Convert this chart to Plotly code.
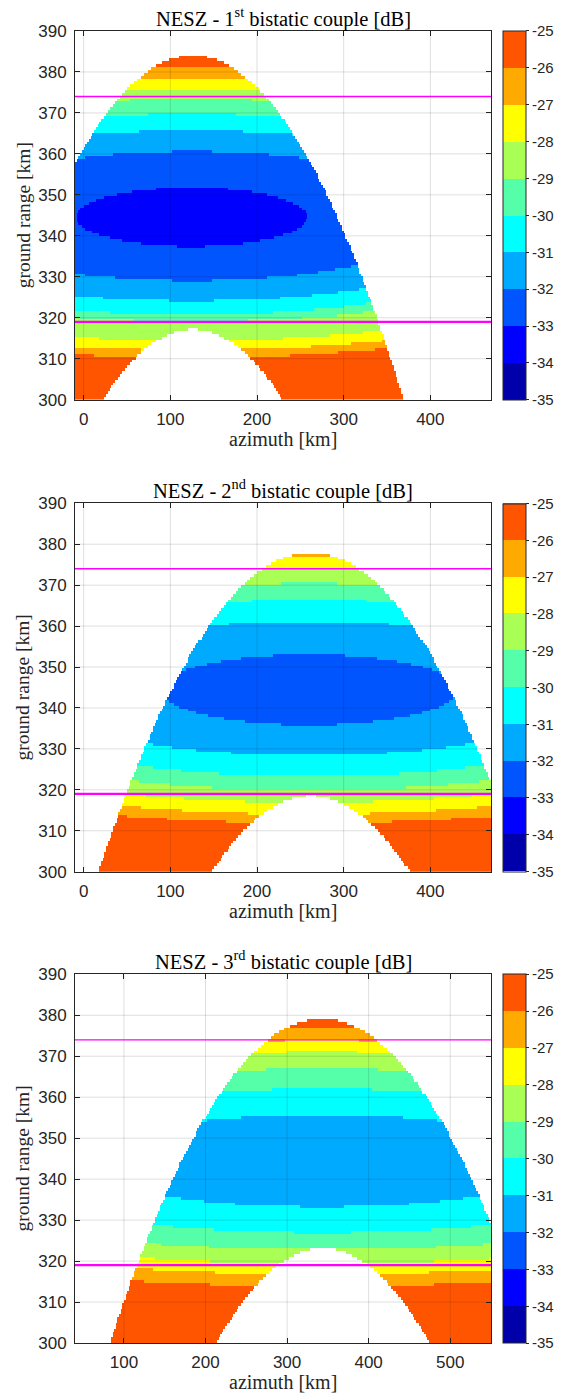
import numpy as np
import plotly.graph_objects as go

# ---------------- data ----------------
# discrete colour levels of the colour bar (dB)
CBAR_TICKS_DB = [-35, -34, -33, -32, -31, -30, -29, -28, -27, -26, -25]
BAND_COLORS = ["#0000AA", "#0000FF", "#0055FF", "#00AAFF", "#00FFFF",
               "#55FFAA", "#AAFF55", "#FFFF00", "#FFAA00", "#FF5500"]

# horizontal reference lines (ground range, km)
THRESHOLDS_KM = [374, 319]
THRESHOLD_WIDTHS = [1.4, 2.2]

TITLES = ["NESZ - 1<sup>st</sup> bistatic couple [dB]",
          "NESZ - 2<sup>nd</sup> bistatic couple [dB]",
          "NESZ - 3<sup>rd</sup> bistatic couple [dB]"]

X_RANGES = [[-10, 470], [-10, 470], [40, 550]]
X_TICKS = [[0, 100, 200, 300, 400], [0, 100, 200, 300, 400], [100, 200, 300, 400, 500]]
Y_RANGE = [300, 390]
Y_TICKS = [300, 310, 320, 330, 340, 350, 360, 370, 380, 390]

# NESZ profile at the central azimuth: level (dB) -> ground range (km) where it is crossed
P1_CENTER = dict(az=124.5, rg=344.6, db=-33.5, aspect=0.054)
P1_LEVELS_DB = [-33, -32, -31, -30, -29, -28, -27, -26, -25]
P1_UPPER_KM = [351.8, 360.6, 365.7, 369.8, 373.4, 375.7, 378.3, 381.2, 383.1]
P1_LOWER_KM = [337.4, 329.0, 324.1, 320.8, 319.0, 314.5, 312.1, 310.3, 308.6]

P2_CENTER = dict(az=260.0, rg=344.5, db=-32.5, aspect=0.050)
P2_LEVELS_DB = [-32, -31, -30, -29, -28, -27, -26, -25]
P2_UPPER_KM = [353.1, 361.2, 366.4, 370.4, 374.1, 376.8, 378.6, 380.0]
P2_LOWER_KM = [335.9, 328.4, 323.5, 320.0, 316.9, 314.15, 311.9, 309.5]

P3_CENTER = dict(az=343.0, rg=344.4, db=-31.7, aspect=0.038)
P3_LEVELS_DB = [-31, -30, -29, -28, -27, -26, -25]
P3_UPPER_KM = [355.6, 362.1, 367.0, 371.1, 373.9, 377.05, 379.4]
P3_LOWER_KM = [333.2, 326.9, 322.8, 319.4, 316.7, 313.9, 311.4]

# coverage limits: parabolic outer / inner edges (apex azimuth, apex range, curvature km^-1)
P1_OUTER = (126.0, 384.0, 0.00142)
P1_INNER = (126.0, 317.2, 0.00159)
P2_OUTER = (262.0, 378.0, 0.00130)
P2_INNER = (262.0, 318.6, 0.00142)
P3_OUTER = (343.0, 379.2, 0.00117)
P3_INNER = (344.0, 323.1, 0.00135)

PANELS = [
    (P1_CENTER, P1_LEVELS_DB, P1_UPPER_KM, P1_LOWER_KM, P1_OUTER, P1_INNER),
    (P2_CENTER, P2_LEVELS_DB, P2_UPPER_KM, P2_LOWER_KM, P2_OUTER, P2_INNER),
    (P3_CENTER, P3_LEVELS_DB, P3_UPPER_KM, P3_LOWER_KM, P3_OUTER, P3_INNER),
]

# grid resolution of the map (km)
DX, DY = 2.0, 0.7

# ---------------- layout geometry ----------------
W, H = 567, 1394
ML, MR, MT, MB = 75, 73, 31, 51
PH = H - MT - MB
PW = W - ML - MR
DOMAINS = [[(H - MB - 399.7) / PH, 1.0],
           [(H - MB - 871.7) / PH, (H - MB - 503.3) / PH],
           [0.0, (H - MB - 974.3) / PH]]

colorscale = []
for i, c in enumerate(BAND_COLORS):
    colorscale.append([i / len(BAND_COLORS), c])
    colorscale.append([(i + 1) / len(BAND_COLORS), c])

AX_COLOR = "#262626"
SANS = "Liberation Sans, Arial, sans-serif"
SERIF = "Liberation Serif, Times New Roman, serif"

fig = go.Figure()
shapes = []
annotations = []

for i, (ctr, levels, upper, lower, outer, inner) in enumerate(PANELS):
    xa = "x" if i == 0 else f"x{i + 1}"
    ya = "y" if i == 0 else f"y{i + 1}"
    xr = X_RANGES[i]
    xs = np.arange(xr[0] + DX / 2, xr[1], DX)
    ys = np.arange(Y_RANGE[0] + DY / 2, Y_RANGE[1], DY)
    X, Y = np.meshgrid(xs, ys)

    up_r = [0.0] + [u - ctr["rg"] for u in upper]
    lo_r = [0.0] + [ctr["rg"] - l for l in lower]
    vals = [ctr["db"]] + list(levels)
    dy = Y - ctr["rg"]
    r = np.sqrt(dy ** 2 + (ctr["aspect"] * (X - ctr["az"])) ** 2)
    z = np.where(dy >= 0, np.interp(r, up_r, vals), np.interp(r, lo_r, vals))

    oy = outer[1] - outer[2] * (X - outer[0]) ** 2
    iy = inner[1] - inner[2] * (X - inner[0]) ** 2
    z = np.where((Y <= oy) & (Y >= iy), z, np.nan)

    d0, d1 = DOMAINS[i]
    fig.add_trace(go.Heatmap(
        x=xs, y=ys, z=z, xaxis=xa, yaxis=ya,
        colorscale=colorscale, zmin=-35, zmax=-25, zsmooth=False,
        hoverinfo="skip",
        colorbar=dict(
            x=(506 - ML) / PW, xanchor="left", xref="paper",
            y=(d0 + d1) / 2, yanchor="middle", yref="paper",
            len=d1 - d0, lenmode="fraction",
            thickness=23, thicknessmode="pixels",
            outlinewidth=1, outlinecolor=AX_COLOR,
            tickvals=CBAR_TICKS_DB, ticktext=[str(v) for v in CBAR_TICKS_DB],
            ticks="outside", ticklen=3, tickcolor=AX_COLOR,
            tickfont=dict(family=SANS, size=15, color=AX_COLOR),
            xpad=0, ypad=0,
        ),
    ))

    axis_common = dict(showline=True, linecolor=AX_COLOR, linewidth=1, mirror="ticks",
                       ticks="inside", ticklen=5, tickcolor=AX_COLOR, showgrid=False,
                       zeroline=False, tickfont=dict(family=SANS, size=17, color=AX_COLOR))
    fig.update_layout(**{
        ("xaxis" if i == 0 else f"xaxis{i + 1}"): dict(
            domain=[0, 1], anchor=ya, range=xr, tickvals=X_TICKS[i],
            ticklabelstandoff=4, **axis_common),
        ("yaxis" if i == 0 else f"yaxis{i + 1}"): dict(
            domain=[d0, d1], anchor=xa, range=Y_RANGE, tickvals=Y_TICKS,
            ticklabelstandoff=4, **axis_common),
    })

    # grid lines drawn over the map (as in the reference)
    for t in X_TICKS[i]:
        shapes.append(dict(type="line", xref=xa, yref=f"{ya} domain", x0=t, x1=t, y0=0, y1=1,
                           line=dict(color="rgba(0,0,0,0.13)", width=1), layer="above"))
    for t in Y_TICKS[1:-1]:
        shapes.append(dict(type="line", xref=f"{xa} domain", yref=ya, x0=0, x1=1, y0=t, y1=t,
                           line=dict(color="rgba(0,0,0,0.13)", width=1), layer="above"))
    for t, w in zip(THRESHOLDS_KM, THRESHOLD_WIDTHS):
        shapes.append(dict(type="line", xref=f"{xa} domain", yref=ya, x0=0, x1=1, y0=t, y1=t,
                           line=dict(color="#FF00FF", width=w), layer="above"))

    annotations.append(dict(text=TITLES[i], xref="paper", yref="paper", x=0.5, y=d1,
                            xanchor="center", yanchor="middle", yshift=14, showarrow=False,
                            font=dict(family=SERIF, size=20.5, color="black")))
    annotations.append(dict(text="azimuth [km]", xref="paper", yref="paper", x=0.5, y=d0,
                            xanchor="center", yanchor="middle", yshift=-39, showarrow=False,
                            font=dict(family=SERIF, size=20, color=AX_COLOR)))
    annotations.append(dict(text="ground range [km]", xref="paper", yref="paper",
                            x=(22.5 - ML) / PW, y=(d0 + d1) / 2, textangle=-90,
                            xanchor="center", yanchor="middle", showarrow=False,
                            font=dict(family=SERIF, size=19.5, color=AX_COLOR)))

fig.update_layout(
    width=W, height=H, margin=dict(l=ML, r=MR, t=MT, b=MB),
    paper_bgcolor="white", plot_bgcolor="white",
    shapes=shapes, annotations=annotations, showlegend=False,
)

fig.write_html("out.html")
